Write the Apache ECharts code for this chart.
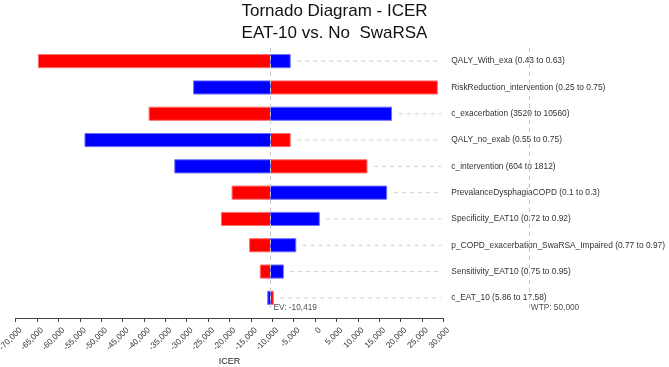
<!DOCTYPE html>
<html>
<head>
<meta charset="utf-8">
<script src="https://cdn.jsdelivr.net/npm/echarts@6/dist/echarts.min.js"></script>
<style>
  html, body { margin: 0; padding: 0; background: #fff; }
  #chart { width: 669px; height: 367px; }
</style>
</head>
<body>
<div id="chart"></div>
<script>
// rows, top to bottom
const categories = [
  'QALY_With_exa (0.43 to 0.63)',
  'RiskReduction_intervention (0.25 to 0.75)',
  'c_exacerbation (3520 to 10560)',
  'QALY_no_exab (0.55 to 0.75)',
  'c_intervention (604 to 1812)',
  'PrevalanceDysphagiaCOPD (0.1 to 0.3)',
  'Specificity_EAT10 (0.72 to 0.92)',
  'p_COPD_exacerbation_SwaRSA_Impaired (0.77 to 0.97)',
  'Sensitivity_EAT10 (0.75 to 0.95)',
  'c_EAT_10 (5.86 to 17.58)'
]
// ICER at the end of the red bar / blue bar
const redValues = [-64700, 28600, -38800, -5800, 12150, -19400, -21900, -15300, -12800, -9750]
const blueValues = [-5800, -28400, 17900, -53800, -32800, 16750, 1000, -4500, -7400, -11050]
const ev = -10419
const wtp = 50000
const xMin = -70000
const xMax = 30000
const xInterval = 5000

const font = 'Liberation Sans, Arial, sans-serif'
const fmt = v => v.toLocaleString('en-US')

function barItem(fill, stroke) {
  return function (params, api) {
    const i = api.value(1)
    const a = api.coord([ev, i])
    const b = api.coord([api.value(0), i])
    const h = api.size([0, 1])[1] * 0.5
    return {
      type: 'rect',
      shape: { x: Math.min(a[0], b[0]), y: a[1] - h / 2, width: Math.abs(b[0] - a[0]), height: h },
      style: { fill: fill, stroke: stroke, lineWidth: 1 }
    }
  }
}

const myChart = echarts.init(document.getElementById('chart'), null, { renderer: 'canvas' })

const option = {
  animation: false,
  textStyle: { fontFamily: font },
  title: {
    text: 'Tornado Diagram - ICER\nEAT-10 vs. No  SwaRSA',
    left: 'center',
    top: 1,
    padding: [0, 5],
    textStyle: { fontFamily: font, fontSize: 17, fontWeight: 'normal', color: '#111', lineHeight: 21.5 }
  },
  grid: [
    { left: 15.7, right: 225.7, top: 48, bottom: 56, outerBoundsMode: 'none', containLabel: false },
    { left: 15.7, width: 513.1, top: 48, bottom: 56, outerBoundsMode: 'none', containLabel: false }
  ],
  xAxis: [
    {
      type: 'value', gridIndex: 0, min: xMin, max: xMax, interval: xInterval,
      offset: 7,
      name: 'ICER', nameLocation: 'middle', nameGap: 39, nameMoveOverlap: false,
      nameTextStyle: { fontFamily: font, fontSize: 9, color: '#222' },
      axisLine: { show: true, lineStyle: { color: '#444', width: 1 } },
      axisTick: { show: true, length: 4, lineStyle: { color: '#444' } },
      axisLabel: {
        rotate: 45, fontSize: 8.3, color: '#333', margin: 6,
        verticalAlign: 'top', lineHeight: 14, formatter: fmt,
        showMinLabel: true, showMaxLabel: true, hideOverlap: false
      },
      splitLine: { show: false }
    },
    {
      type: 'value', gridIndex: 1, min: xMin, max: wtp, show: false, splitLine: { show: false }
    }
  ],
  yAxis: [
    {
      type: 'category', gridIndex: 0, data: categories, inverse: true, position: 'right',
      axisLine: { show: false }, axisTick: { show: false }, splitLine: { show: false },
      axisLabel: { fontSize: 8.4, color: '#333', margin: 8, align: 'left' }
    },
    {
      type: 'category', gridIndex: 1, data: categories, inverse: true, show: false
    }
  ],
  series: [
    {
      type: 'custom', xAxisIndex: 0, yAxisIndex: 0,
      renderItem: function (params, api) {
        const i = api.value(1)
        const p = api.coord([api.value(0), i])
        const e = api.coord([xMax, i])
        const x1 = p[0] + 7, x2 = e[0] - 2
        if (x1 >= x2) return null
        return {
          type: 'line',
          shape: { x1: x1, y1: p[1], x2: x2, y2: p[1] },
          style: { stroke: '#d0d0d0', lineWidth: 1, lineDash: [4, 4] }
        }
      },
      data: categories.map((c, i) => [Math.max(redValues[i], blueValues[i]), i]),
      silent: true
    },
    {
      type: 'custom', xAxisIndex: 0, yAxisIndex: 0,
      renderItem: barItem('#ff0000', '#ff7070'),
      data: redValues.map((v, i) => [v, i])
    },
    {
      type: 'custom', xAxisIndex: 0, yAxisIndex: 0,
      renderItem: barItem('#0000ff', '#7070ff'),
      data: blueValues.map((v, i) => [v, i])
    },
    {
      type: 'scatter', xAxisIndex: 0, yAxisIndex: 0, symbolSize: 0, silent: true,
      data: [[ev, categories.length - 1]],
      label: {
        show: true, position: 'right', distance: 3, offset: [0, 10],
        fontSize: 8.3, color: '#222', formatter: 'EV: ' + fmt(ev)
      },
      markLine: {
        silent: true, symbol: 'none', label: { show: false },
        lineStyle: { color: '#c8c8c8', type: [4, 4], width: 1 },
        data: [{ xAxis: ev }]
      }
    },
    {
      type: 'scatter', xAxisIndex: 1, yAxisIndex: 1, symbolSize: 0, silent: true,
      data: [[wtp, categories.length - 1]],
      label: {
        show: true, position: 'right', distance: 2, offset: [0, 10],
        fontSize: 8.3, color: '#222', formatter: 'WTP: ' + fmt(wtp)
      },
      markLine: {
        silent: true, symbol: 'none', label: { show: false },
        lineStyle: { color: '#c8c8c8', type: [4, 4], width: 1 },
        data: [{ xAxis: wtp }]
      }
    }
  ]
}

myChart.setOption(option)
window.addEventListener('resize', myChart.resize)
</script>
</body>
</html>
